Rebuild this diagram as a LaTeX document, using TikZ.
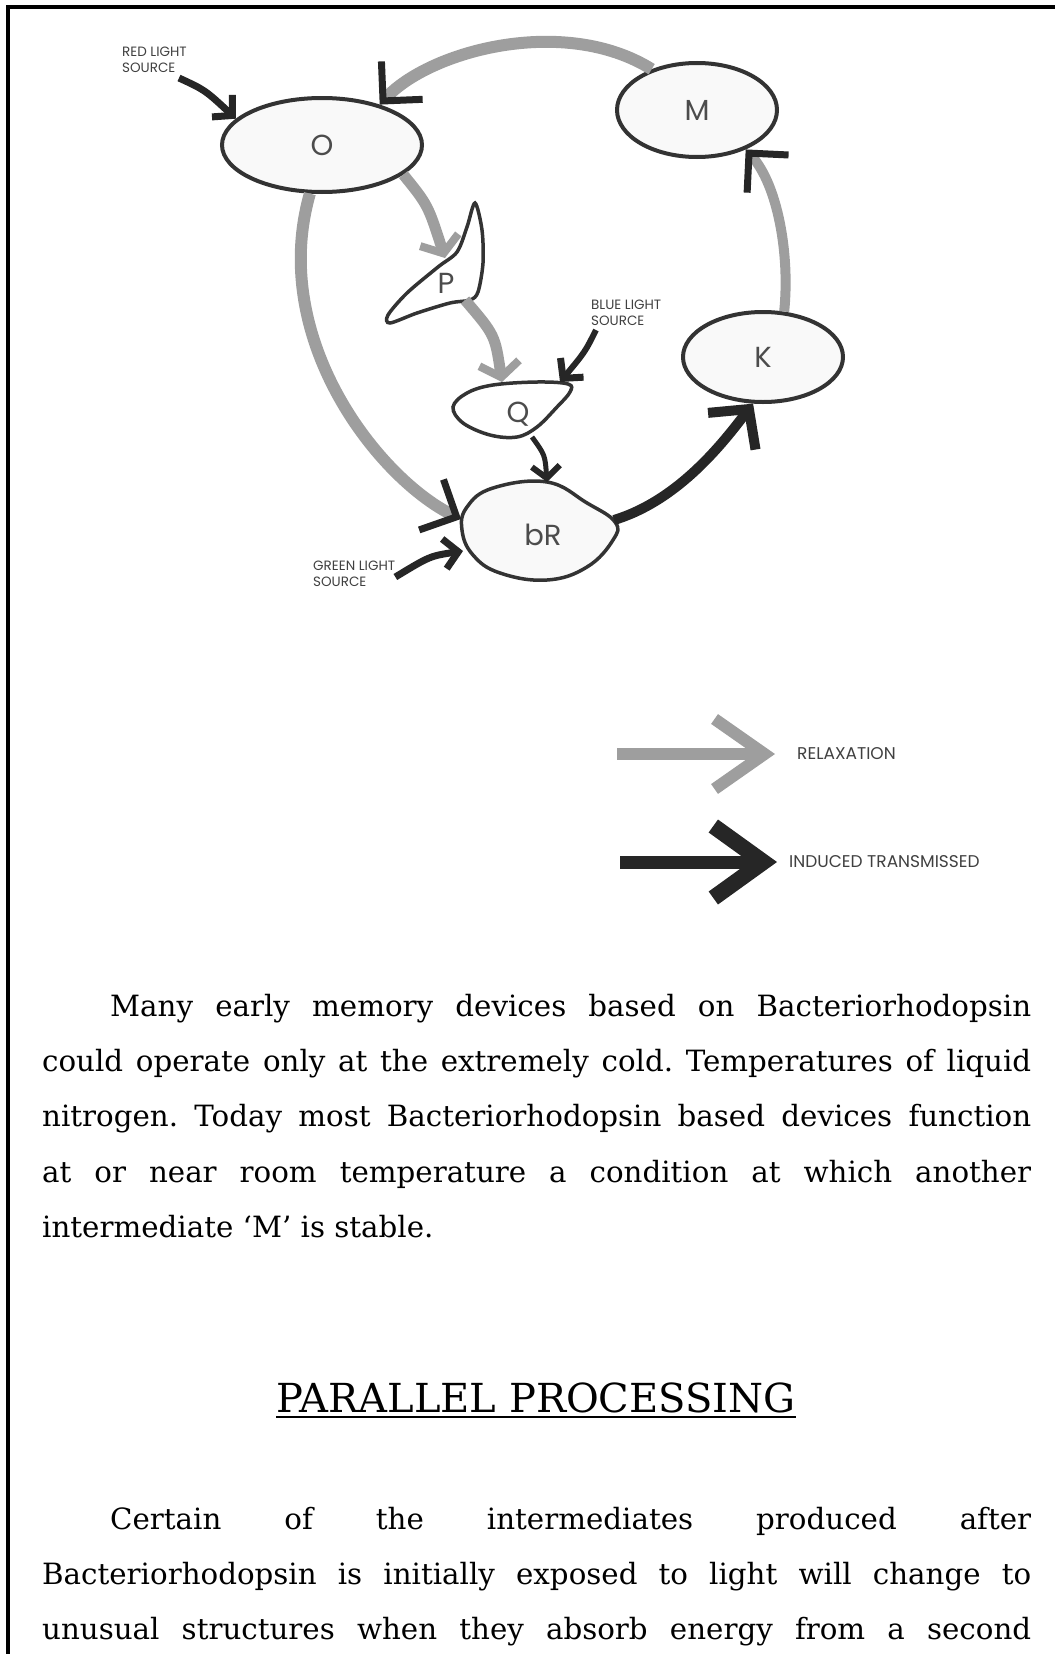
\documentclass[tikz,border=0pt]{standalone}
\usepackage{fontspec}
\setmainfont{DejaVu Serif}
\newfontfamily\diafont{Poppins}
\usetikzlibrary{arrows.meta,shapes.geometric}

\begin{document}
\begin{tikzpicture}[
    x=1pt, y=-1pt,
    stateell/.style={ellipse, draw=black!80, line width=4pt, fill=gray!5, inner sep=0pt, font={\diafont\fontsize{29}{30}\selectfont}, text=black!70},
    blob/.style={draw=black!80, line width=3.5pt},
    letter/.style={inner sep=0pt, font={\diafont\fontsize{29}{30}\selectfont}, text=black!70},
    sourcelbl/.style={inner sep=0pt, align=left, anchor=west, font={\diafont\fontsize{13.5}{16}\selectfont}, text=black!75},
    keylbl/.style={inner sep=0pt, anchor=west, font={\diafont\fontsize{17}{20}\selectfont}, text=black!75},
    relaxarrow/.style={draw=black!38, line width=12pt},
    darkhead/.style={-{Straight Barb[length=28pt,width=56pt,line width=7pt,color=black!85]}},
    grayhead/.style={-{Straight Barb[length=14pt,width=40pt,line width=8pt]}},
    inducedarrow/.style={draw=black!85},
    lightarrow/.style={draw=black!85, line width=7pt, -{Straight Barb[length=14pt,width=30pt,line width=7pt]}},
    bodytext/.style={inner sep=0pt, anchor=base west}
]
\useasboundingbox (0,0) rectangle (1055,1654);

% page frame
\draw[line width=4pt] (8,1654) -- (8,7) -- (1055,7);

% states
\node[stateell, minimum width=200pt, minimum height=94pt] (O) at (322,145) {O};
\node[stateell, minimum width=160pt, minimum height=94pt] (M) at (697,110) {M};
\node[stateell, minimum width=160pt, minimum height=90pt] (K) at (763,357) {K};

% blobs
\draw[blob, fill=gray!5] plot[smooth cycle, tension=0.7] coordinates {(462,530) (467,507) (493,488) (547,482) (587,503) (615,522) (613,540) (587,567) (547,580) (500,573) (473,555)};
\node[letter] (bR) at (543,535) {bR};
\draw[blob] plot[smooth cycle, tension=0.6] coordinates {(453,407) (467,393) (493,385) (537,382) (568,384) (570,392) (557,407) (537,427) (517,437) (490,435) (463,423)};
\node[letter] (Q) at (518,414) {Q};
\draw[blob] plot[smooth cycle, tension=0.5] coordinates {(475,203) (482,230) (483,263) (478,292) (470,300) (450,303) (417,313) (390,323) (388,315) (407,293) (438,267) (457,252) (467,227)};
\node[letter] (P) at (446,283) {P};

\coordinate (P-in) at (445,258);
\coordinate (P-out) at (465,300);
\coordinate (Q-in) at (502,382);
\coordinate (Q-top) at (560,382);
\coordinate (Q-out) at (532,437);
\coordinate (bR-left) at (461,519);
\coordinate (bR-low) at (463,551);
\coordinate (bR-top) at (547,482);
\coordinate (bR-right) at (614,520);

% relaxation
\draw[relaxarrow, darkhead] (M.138) .. controls (565,15) and (430,50) .. (O.35);
\draw[relaxarrow, line width=10pt, darkhead] (K.65) .. controls (790,255) and (778,185) .. (M.321);
\draw[relaxarrow, darkhead] (O.256) .. controls (268,340) and (380,480) .. (bR-left);
\draw[relaxarrow, line width=11pt, grayhead] (O.340) .. controls (428,205) .. (P-in);
\draw[relaxarrow, line width=11pt, grayhead] (P-out) .. controls (495,335) .. (Q-in);

% induced
\draw[inducedarrow, line width=10pt, -{Straight Barb[length=28pt,width=60pt,line width=10pt]}] (bR-right) .. controls (680,500) and (725,440) .. (K.258);
\draw[inducedarrow, line width=5pt, -{Straight Barb[length=12pt,width=28pt,line width=6pt]}] (Q-out) .. controls (545,455) .. (bR-top);

% light sources
\node[sourcelbl] (red) at (122,60) {RED LIGHT\\SOURCE};
\node[sourcelbl] (blue) at (591,313) {BLUE LIGHT\\SOURCE};
\node[sourcelbl] (green) at (313,574) {GREEN LIGHT\\SOURCE};
\draw[lightarrow] ([xshift=-8pt,yshift=-5pt]red.south east) .. controls (205,90) .. (O.163);
\draw[lightarrow, line width=6pt] ([xshift=5pt,yshift=-4pt]blue.south west) .. controls (585,352) .. (Q-top);
\draw[lightarrow] ([xshift=0pt,yshift=-3pt]green.east) .. controls (430,556) .. (bR-low);

% legend
\node[keylbl] (relaxkey) at (797,754) {RELAXATION};
\node[keylbl] (inducedkey) at (789,862) {INDUCED TRANSMISSED};
\coordinate (relaxtail) at (617,754);
\coordinate (inducedtail) at (620,862);
\draw[relaxarrow, -{Straight Barb[length=50pt,width=70pt,line width=12pt]}] (relaxtail) -- ([xshift=-22pt]relaxkey.west);
\draw[inducedarrow, line width=13pt, -{Straight Barb[length=50pt,width=72pt,line width=16pt]}] (inducedtail) -- ([xshift=-12pt]inducedkey.west);

% text
\node[bodytext] (para1) at (42,1016) {\parbox[t]{989pt}{\fontsize{29.3}{55.4}\selectfont\frenchspacing\setlength{\parindent}{68pt}%
Many early memory devices based on Bacteriorhodopsin\linebreak
could operate only at the extremely cold. Temperatures of liquid\linebreak
nitrogen. Today most Bacteriorhodopsin based devices function\linebreak
at or near room temperature a condition at which another\linebreak
intermediate ‘M’ is stable.}};
\node[inner sep=0pt, anchor=base, font={\fontsize{40}{48}\selectfont}] (title) at (536,1412) {PARALLEL PROCESSING};
\draw[line width=2pt] ([yshift=-5pt]title.base west) -- ([yshift=-5pt]title.base east);
\node[bodytext] (para2) at (42,1529) {\parbox[t]{989pt}{\fontsize{29.3}{55.4}\selectfont\frenchspacing\setlength{\parindent}{68pt}%
Certain of the intermediates produced after\linebreak
Bacteriorhodopsin is initially exposed to light will change to\linebreak
unusual structures when they absorb energy from a second{\parfillskip=0pt\par}}};
\end{tikzpicture}
\end{document}
